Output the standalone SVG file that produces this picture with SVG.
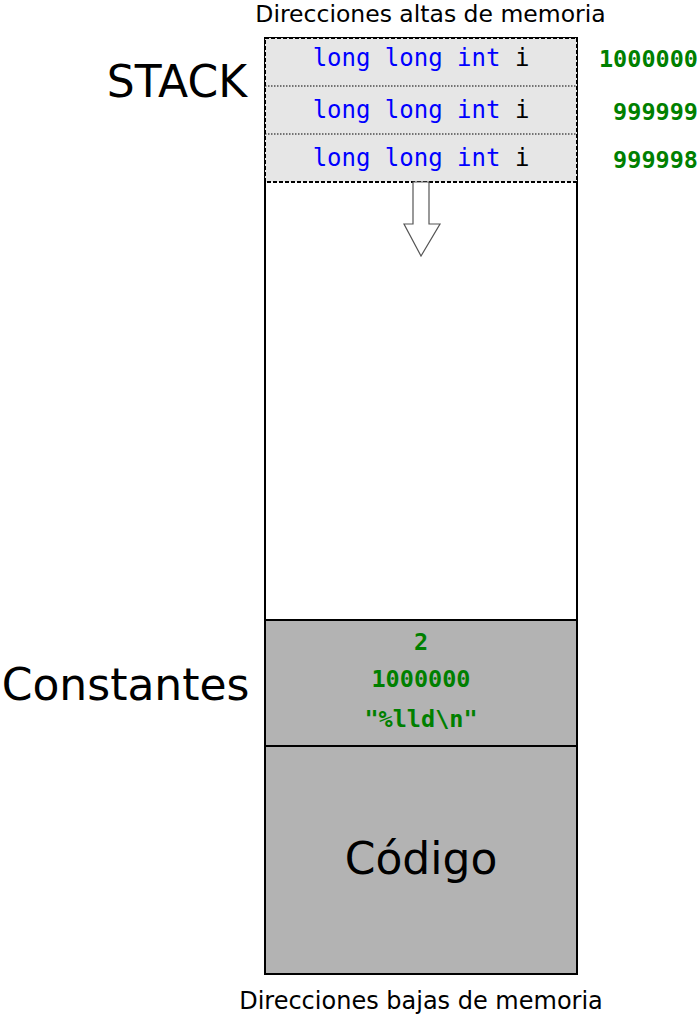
<svg xmlns="http://www.w3.org/2000/svg" width="698" height="1016" viewBox="0 0 698 1016">
<style>
.lbl{font-family:"DejaVu Sans",sans-serif;fill:#000}
.big{font-size:44px}
.sm{font-size:24px}
.mono{font-family:"DejaVu Sans Mono",monospace;font-size:24px}
.kw{fill:#0000ff}
.num{font-family:"DejaVu Sans Mono",monospace;font-size:23.5px;font-weight:bold;fill:#008000}
</style>
<rect width="698" height="1016" fill="#fff"/>
<g id="memory">
<rect x="265" y="38" width="312" height="936" fill="#fff" stroke="#000" stroke-width="2"/>
</g>
<g id="stack">
<rect x="265" y="38" width="312" height="144" fill="#e6e6e6" stroke="none"/>
<line x1="265" y1="86" x2="577" y2="86" stroke="#000" stroke-width="1.2" stroke-dasharray="1.5,1.5"/>
<line x1="265" y1="134" x2="577" y2="134" stroke="#000" stroke-width="1.2" stroke-dasharray="1.5,1.5"/>
<rect x="265" y="38" width="312" height="144" fill="none" stroke="#000" stroke-width="2" stroke-dasharray="4,2"/>
<text class="mono" x="421" y="66" text-anchor="middle"><tspan class="kw">long long int</tspan> i</text>
<text class="mono" x="421" y="118" text-anchor="middle"><tspan class="kw">long long int</tspan> i</text>
<text class="mono" x="421" y="166" text-anchor="middle"><tspan class="kw">long long int</tspan> i</text>
<text class="num" x="698" y="67" text-anchor="end">1000000</text>
<text class="num" x="698" y="120" text-anchor="end">999999</text>
<text class="num" x="698" y="168" text-anchor="end">999998</text>
</g>
<g id="connectors">
<path d="M413,182 L429,182 L429,224 L440,224 L421,256 L404,224 L413,224 Z" fill="#fff" stroke="#555" stroke-width="1.2"/>
</g>
<g id="constantes">
<rect x="265" y="620" width="312" height="126" fill="#b3b3b3" stroke="#000" stroke-width="2"/>
<text class="num" x="421" y="650" text-anchor="middle">2</text>
<text class="num" x="421" y="687" text-anchor="middle">1000000</text>
<text class="num" x="421" y="727" text-anchor="middle">"%lld\n"</text>
</g>
<g id="codigo">
<rect x="265" y="746" width="312" height="228" fill="#b3b3b3" stroke="#000" stroke-width="2"/>
<text class="lbl big" x="421" y="874" text-anchor="middle">Código</text>
</g>
<g id="labels">
<text class="lbl" font-size="23.5" x="430.5" y="22" text-anchor="middle">Direcciones altas de memoria</text>
<text class="lbl sm" x="421" y="1009" text-anchor="middle">Direcciones bajas de memoria</text>
<text class="lbl big" x="247" y="97" text-anchor="end">STACK</text>
<text class="lbl big" x="249.5" y="700" text-anchor="end">Constantes</text>
</g>
</svg>
